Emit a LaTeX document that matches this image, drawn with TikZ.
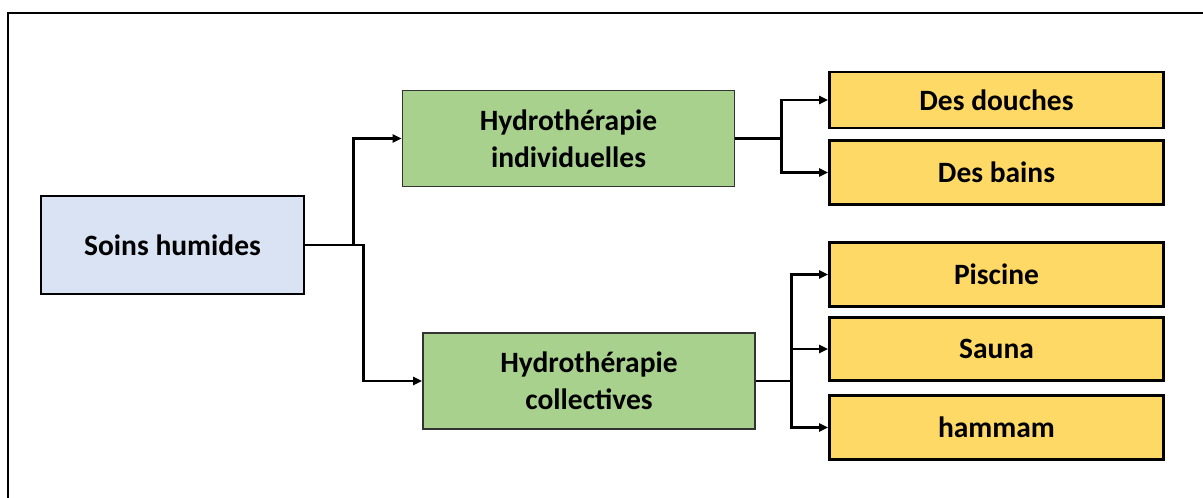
\documentclass[tikz,border=0pt]{standalone}
\usepackage{fontspec}
\setmainfont{Carlito}
\usetikzlibrary{arrows.meta}
\definecolor{rootblue}{HTML}{DAE3F3}
\definecolor{midgreen}{HTML}{A9D18E}
\definecolor{leafyellow}{HTML}{FFD966}
\tikzset{
	box/.style={draw=black,line width=2.8pt,align=center,inner sep=0pt,font=\fontsize{29.5}{37}\selectfont\bfseries},
	root/.style={box,fill=rootblue,minimum width=263pt,minimum height=98pt},
	mid/.style={box,draw=black!80,line width=1.6pt,fill=midgreen,minimum width=332pt,minimum height=96pt},
	leaf/.style={box,fill=leafyellow,minimum width=334pt},
	link/.style={line width=2.7pt,-{Triangle[length=9pt,width=8pt]}}
}
\begin{document}
\begin{tikzpicture}[x=1pt,y=-1pt]
	\useasboundingbox(0,0)rectangle(1203,498);
	\draw[line width=2pt](8,510)--(8,13)--(1215,13);
	\node[root](soins)at(172.5,245){Soins humides};
	\node[mid](indiv)at(568.5,138.5){Hydroth\'erapie\\individuelles};
	\node[mid](coll)at(589,381){Hydroth\'erapie\\collectives};
	\node[leaf,minimum height=56pt](douches)at(996.5,100){Des douches};
	\node[leaf,minimum height=64pt](bains)at(996.5,172.5){Des bains};
	\node[leaf,minimum height=64pt](piscine)at(996.5,274.5){Piscine};
	\node[leaf,minimum height=63pt](sauna)at(996.5,349){Sauna};
	\node[leaf,minimum height=64pt](hammam)at(996.5,427.5){hammam};
	\draw[link](soins.east)--++(48,0)|-(indiv.west);
	\draw[link](soins.east)--++(58,0)|-(coll.west);
	\draw[link](indiv.east)--++(46,0)|-(douches.west);
	\draw[link](indiv.east)--++(46,0)|-(bains.west);
	\draw[link](coll.east)--++(36,0)|-(piscine.west);
	\draw[link](coll.east)--++(36,0)|-(sauna.west);
	\draw[link](coll.east)--++(36,0)|-(hammam.west);
\end{tikzpicture}
\end{document}
